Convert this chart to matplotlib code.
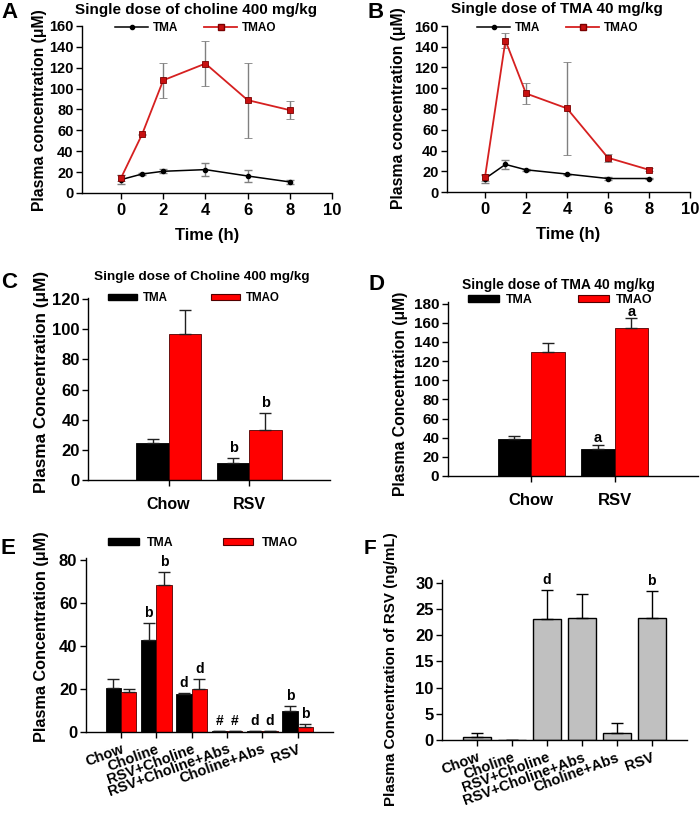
import numpy as np
import matplotlib
matplotlib.use('Agg')
import matplotlib.pyplot as plt
from matplotlib.patches import Patch
from matplotlib.lines import Line2D

plt.rcParams['font.family'] = ['Liberation Sans', 'DejaVu Sans']
plt.rcParams['font.weight'] = 'bold'

# ---- data ----
time_h = [0, 1, 2, 4, 6, 8]

# A: single dose of choline
a_tma = [12.8, 18.2, 20.8, 22.4, 16.3, 10.6]
a_tma_err = [4.5, 1.0, 2.0, 6.0, 5.5, 2.0]
a_tmao = [14.4, 56.3, 108, 124, 89, 79.4]
a_tmao_err = [3.0, 0.5, 16.7, 21.5, 36, 8.5]

# B: single dose of TMA
b_tma = [12.8, 26.6, 21.4, 17.3, 13.0, 13.0]
b_tma_err = [4.0, 4.0, 1.0, 0.5, 1.0, 0.5]
b_tmao = [14.0, 146, 95, 80.6, 33, 21.4]
b_tmao_err = [3.0, 7.0, 10.0, 44.5, 4.0, 1.5]

groups_cd = ['Chow', 'RSV']
c_tma = [24.5, 11.0]
c_tma_err = [2.7, 3.7]
c_tmao = [97, 33.5]
c_tmao_err = [16, 11]
c_tma_sig = ['', 'b']
c_tmao_sig = ['', 'b']

d_tma = [38.2, 27.9]
d_tma_err = [3.4, 4.0]
d_tmao = [129.7, 154.5]
d_tmao_err = [9.0, 10.0]
d_tma_sig = ['', 'a']
d_tmao_sig = ['', 'a']

groups_ef = ['Chow', 'Choline', 'RSV+Choline', 'RSV+Choline+Abs', 'Choline+Abs', 'RSV']
e_tma = [20.4, 42.8, 17.6, 0.3, 0.2, 9.5]
e_tma_err = [4.0, 8.0, 0.6, 0.1, 0.1, 2.6]
e_tmao = [18.7, 68.5, 20.1, 0.4, 0.2, 2.3]
e_tmao_err = [1.0, 6.0, 4.6, 0.1, 0.1, 1.5]
e_tma_sig = ['', 'b', 'd', '#', 'd', 'b']
e_tmao_sig = ['', 'b', 'd', '#', 'd', 'b']

f_rsv = [0.5, 0.0, 23.0, 23.3, 1.4, 23.2]
f_rsv_err = [0.75, 0.0, 5.6, 4.5, 1.9, 5.2]
f_sig = ['', '', 'd', '', '', 'b']

RED = '#ff0000'
W, H = 700, 815

fig = plt.figure(figsize=(7, 8.15), dpi=100)

def px_axes(l, r, t, b):
    return fig.add_axes([l / W, 1 - b / H, (r - l) / W, (b - t) / H])

def style(ax, ytick_size, xtick_size):
    for s in ['top', 'right']:
        ax.spines[s].set_visible(False)
    for s in ['left', 'bottom']:
        ax.spines[s].set_linewidth(1.0)
    ax.tick_params(axis='y', direction='out', length=4, width=1, labelsize=ytick_size, pad=2)
    ax.tick_params(axis='x', direction='out', length=4, width=1, labelsize=xtick_size)
    for lab in ax.get_xticklabels() + ax.get_yticklabels():
        lab.set_fontweight('bold')

def ftext(x, y, s, size, **kw):
    fig.text(x / W, 1 - y / H, s, fontsize=size, fontweight='bold', ha='center', va='center', **kw)

def line_panel(ax, tma, tma_err, tmao, tmao_err):
    ax.errorbar(time_h, tma, yerr=tma_err, color='black', lw=1.1, marker='o', ms=3,
                ecolor='#808080', elinewidth=1, capsize=3, zorder=3)
    ax.errorbar(time_h, tmao, yerr=tmao_err, color='#d62020', lw=1.3, marker='s', ms=4.5,
                mfc='#c81010', mec='#7a0000', mew=0.6,
                ecolor='#808080', elinewidth=1, capsize=3, zorder=3)
    ax.set_xlim(-1.85, 10)
    ax.set_ylim(0, 160)
    ax.set_xticks([0, 2, 4, 6, 8, 10])
    ax.set_yticks(np.arange(0, 161, 20))
    ax.set_xlabel('Time (h)', fontsize=12, fontweight='bold', labelpad=7)
    style(ax, 10.5, 12)

def line_legend(ax, x, y):
    hs = [Line2D([], [], color='black', lw=1.1, marker='o', ms=3),
          Line2D([], [], color='#d62020', lw=1.3, marker='s', ms=4, mfc='#c81010', mec='#7a0000')]
    ax.legend(hs, ['TMA', 'TMAO'], ncol=2, frameon=False, loc='center left',
              bbox_to_anchor=(x / W, 1 - y / H), bbox_transform=fig.transFigure,
              prop={'weight': 'bold', 'size': 8.5}, handlelength=2.8, handletextpad=0.4,
              columnspacing=2.2, borderpad=0, borderaxespad=0)

def bar_legend(ax, x, y, size, colsp, textpad):
    hs = [Patch(facecolor='black', edgecolor='black'),
          Patch(facecolor=RED, edgecolor='#500000', lw=0.8)]
    ax.legend(hs, ['TMA', 'TMAO'], ncol=2, frameon=False, loc='center left',
              bbox_to_anchor=(x / W, 1 - y / H), bbox_transform=fig.transFigure,
              prop={'weight': 'bold', 'size': size}, handlelength=2.5, handleheight=0.45,
              handletextpad=textpad, columnspacing=colsp, borderpad=0, borderaxespad=0)

def label_sig(ax, xs, tops, labels, size, off=2):
    for x, t, s in zip(xs, tops, labels):
        if s:
            ax.annotate(s, (x, t), xytext=(0, off), textcoords='offset points',
                        ha='center', va='bottom', fontsize=size, fontweight='bold')

def grouped_bars(ax, n, tma, tma_err, tmao, tmao_err, width, base):
    x = np.arange(n) + base
    z = np.zeros(n)
    ax.bar(x - width / 2, tma, width, color='black', edgecolor='black', lw=0.6,
           yerr=[z, tma_err], error_kw=dict(ecolor='#202020', elinewidth=1, capsize=4, capthick=1))
    ax.bar(x + width / 2, tmao, width, color=RED, edgecolor='#500000', lw=0.6,
           yerr=[z, tmao_err], error_kw=dict(ecolor='#202020', elinewidth=1, capsize=4, capthick=1))
    return x

# ---- A ----
axA = px_axes(82, 332, 26, 193)
line_panel(axA, a_tma, a_tma_err, a_tmao, a_tmao_err)
line_legend(axA, 115, 28)
ftext(196, 10, 'Single dose of choline 400 mg/kg', 11)
ftext(40, 110, 'Plasma concentration (\u03bcM)', 11.3, rotation=90)
ftext(9, 13, 'A', 16)

# ---- B ----
axB = px_axes(447, 690, 26, 192)
line_panel(axB, b_tma, b_tma_err, b_tmao, b_tmao_err)
line_legend(axB, 477, 28)
ftext(557, 9, 'Single dose of TMA 40 mg/kg', 11)
ftext(398, 108, 'Plasma concentration (\u03bcM)', 11.3, rotation=90)
ftext(376, 13, 'B', 16)

# ---- C ----
axC = px_axes(88, 330, 297.7, 480)
xc = grouped_bars(axC, 2, c_tma, c_tma_err, c_tmao, c_tmao_err, 0.4, 1)
label_sig(axC, xc - 0.2, np.add(c_tma, c_tma_err), c_tma_sig, 10.5)
label_sig(axC, xc + 0.2, np.add(c_tmao, c_tmao_err), c_tmao_sig, 10.5)
axC.set_xlim(0, 3)
axC.set_ylim(0, 121)
axC.set_yticks(np.arange(0, 121, 20))
axC.set_xticks(xc)
axC.set_xticklabels(groups_cd)
style(axC, 12, 11.5)
axC.tick_params(axis='x', pad=8)
bar_legend(axC, 108, 298, 8.3, 3.8, 0.5)
ftext(202, 277, 'Single dose of Choline 400 mg/kg', 9.7)
ftext(42, 382, 'Plasma Concentration (\u03bcM)', 12.3, rotation=90)
ftext(9, 283, 'C', 16)

# ---- D ----
axD = px_axes(447.7, 698, 301.7, 476)
xd = grouped_bars(axD, 2, d_tma, d_tma_err, d_tmao, d_tmao_err, 0.4, 1)
label_sig(axD, xd - 0.2, np.add(d_tma, d_tma_err), d_tma_sig, 10.5, off=0.5)
label_sig(axD, xd + 0.2, np.add(d_tmao, d_tmao_err), d_tmao_sig, 10.5, off=-0.5)
axD.set_xlim(0, 3)
axD.set_ylim(0, 182)
axD.set_yticks(np.arange(0, 181, 20))
axD.set_xticks(xd)
axD.set_xticklabels(groups_cd)
style(axD, 11, 12)
axD.tick_params(axis='x', pad=8)
bar_legend(axD, 468, 300, 8.9, 3.7, 0.55)
ftext(558, 285, 'Single dose of TMA 40 mg/kg', 10)
ftext(400, 394, 'Plasma Concentration (\u03bcM)', 11.3, rotation=90)
ftext(376, 285, 'D', 16)

# ---- E ----
axE = px_axes(85.7, 333, 557.7, 731.7)
xe = grouped_bars(axE, 6, e_tma, e_tma_err, e_tmao, e_tmao_err, 0.43, 0)
label_sig(axE, xe - 0.215, np.add(e_tma, e_tma_err), e_tma_sig, 10)
label_sig(axE, xe + 0.215, np.add(e_tmao, e_tmao_err), e_tmao_sig, 10)
axE.set_xlim(-1, 6)
axE.set_ylim(0, 81)
axE.set_yticks(np.arange(0, 81, 20))
axE.set_xticks(xe)
axE.set_xticklabels(groups_ef, rotation=20, ha='right', rotation_mode='anchor')
style(axE, 12, 10.5)
bar_legend(axE, 108, 543, 8.8, 4.0, 0.7)
ftext(42, 637, 'Plasma Concentration (\u03bcM)', 11.7, rotation=90)
ftext(8, 548, 'E', 16)

# ---- F ----
axF = px_axes(442, 686.7, 580, 740)
xf = np.arange(len(groups_ef))
z = np.zeros(len(groups_ef))
axF.bar(xf, f_rsv, 0.79, color='#c0c0c0', edgecolor='black', lw=1,
        yerr=[z, f_rsv_err], error_kw=dict(ecolor='black', elinewidth=1, capsize=4, capthick=1))
label_sig(axF, xf, np.add(f_rsv, f_rsv_err), f_sig, 10)
axF.set_xlim(-1, 6)
axF.set_ylim(0, 30.5)
axF.set_yticks(np.arange(0, 31, 5))
axF.set_xticks(xf)
axF.set_xticklabels(groups_ef, rotation=20, ha='right', rotation_mode='anchor')
style(axF, 12, 10.5)
ftext(391, 669, 'Plasma Concentration of RSV (ng/mL)', 10.9, rotation=90)
ftext(370, 548, 'F', 15)

fig.savefig('out.png', dpi=100)
